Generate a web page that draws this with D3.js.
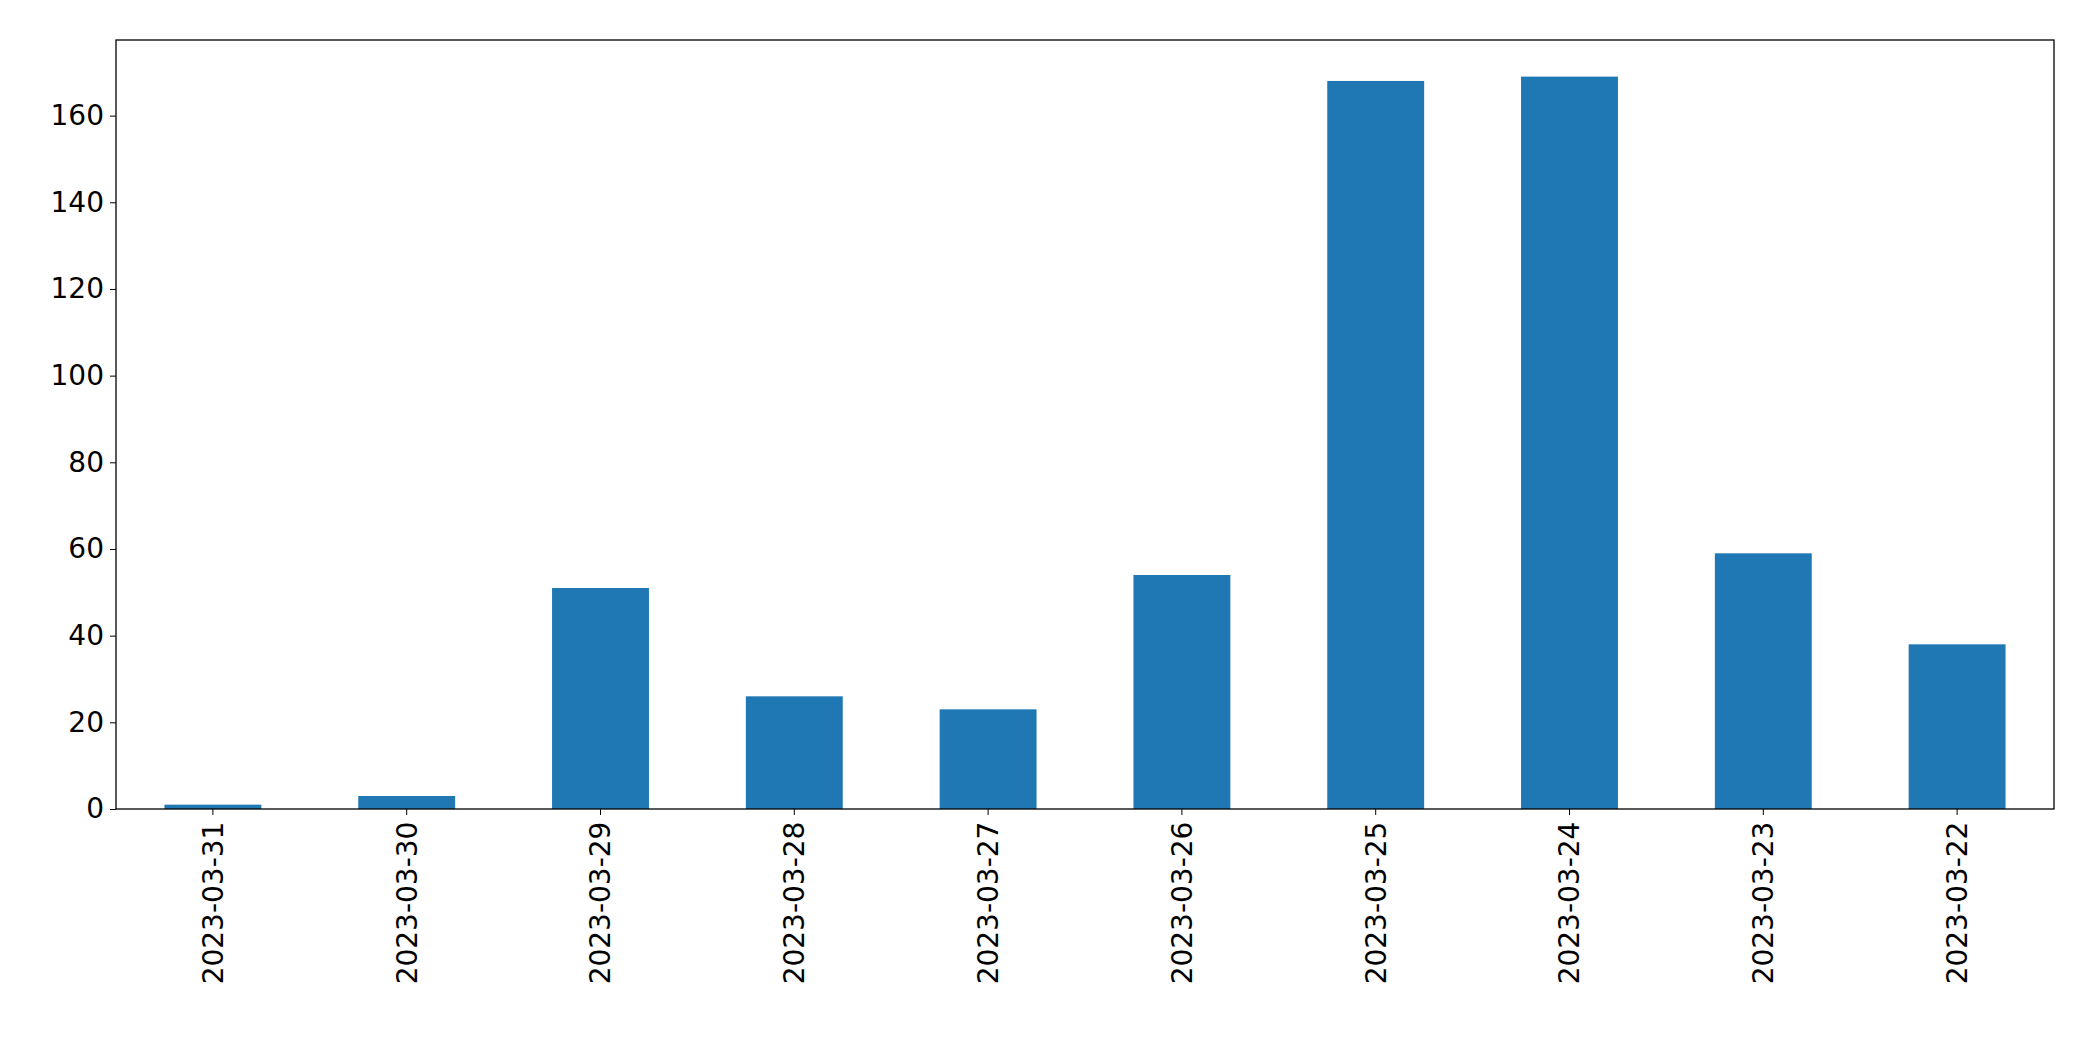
<!DOCTYPE html>
<html>
<head>
<meta charset="utf-8">
<script src="https://cdn.jsdelivr.net/npm/d3@7"></script>
<style>
  body { margin: 0; background: #fff; }
  text { font-family: "DejaVu Sans", sans-serif; }
</style>
</head>
<body>
<script>
const dates = ['2023-03-31', '2023-03-30', '2023-03-29', '2023-03-28', '2023-03-27',
               '2023-03-26', '2023-03-25', '2023-03-24', '2023-03-23', '2023-03-22'];
const counts = [1, 3, 51, 26, 23, 54, 168, 169, 59, 38];
const yTicks = [0, 20, 40, 60, 80, 100, 120, 140, 160];

const W = 2093, H = 1061;
const m = { left: 116, right: 2054, top: 40, bottom: 809 };

const svg = d3.select('body').append('svg')
    .attr('width', W)
    .attr('height', H);

const x = d3.scaleBand()
    .domain(dates)
    .range([m.left, m.right])
    .paddingInner(0.5)
    .paddingOuter(0.25);

const y = d3.scaleLinear()
    .domain([0, d3.max(counts) * 1.05])
    .range([m.bottom, m.top]);

svg.selectAll('rect.bar')
    .data(counts)
    .enter()
    .append('rect')
    .attr('class', 'bar')
    .attr('x', (d, i) => x(dates[i]))
    .attr('y', d => y(d))
    .attr('width', x.bandwidth())
    .attr('height', d => y(0) - y(d))
    .attr('fill', '#1f77b4');

const xAxis = svg.append('g')
    .attr('transform', `translate(0, ${m.bottom})`)
    .call(d3.axisBottom(x).tickSize(6).tickPadding(6));
xAxis.select('.domain').remove();
xAxis.selectAll('text')
    .attr('font-size', 28)
    .attr('transform', 'rotate(-90)')
    .attr('text-anchor', 'end')
    .attr('dx', '-0.45em')
    .attr('dy', '0.35em')
    .attr('x', 0)
    .attr('y', 0)
    .attr('fill', '#000');

const yAxis = svg.append('g')
    .attr('transform', `translate(${m.left}, 0)`)
    .call(d3.axisLeft(y).tickValues(yTicks).tickSize(6).tickPadding(6));
yAxis.select('.domain').remove();
yAxis.selectAll('text')
    .attr('font-size', 28)
    .attr('fill', '#000');

svg.append('rect')
    .attr('x', m.left)
    .attr('y', m.top)
    .attr('width', m.right - m.left)
    .attr('height', m.bottom - m.top)
    .attr('fill', 'none')
    .attr('stroke', '#000')
    .attr('stroke-width', 1.3);
</script>
</body>
</html>
